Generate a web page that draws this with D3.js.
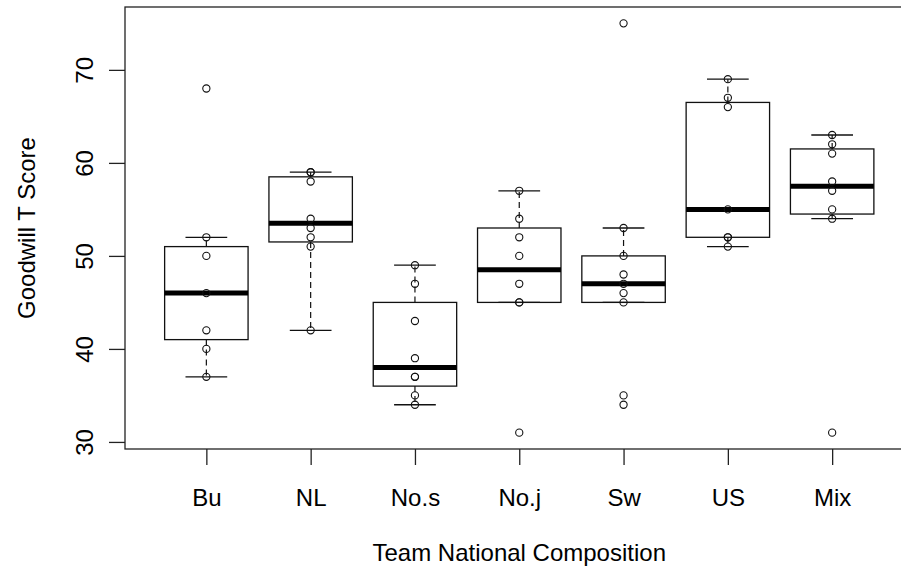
<!DOCTYPE html>
<html>
<head>
<meta charset="utf-8">
<script src="https://cdn.jsdelivr.net/npm/d3@7"></script>
<style>
  body { margin: 0; background: #fff; }
  svg text { font-family: "Liberation Sans", Arial, sans-serif; fill: #000; }
</style>
</head>
<body>
<div id="chart"></div>
<script>
// Team groups and the goodwill T scores
var groups = ["Bu", "NL", "No.s", "No.j", "Sw", "US", "Mix"];
var buScores  = [37, 40, 42, 46, 50, 52, 68];
var nlScores  = [42, 51, 52, 53, 54, 58, 59, 59];
var nosScores = [34, 35, 37, 37, 39, 43, 47, 49];
var nojScores = [31, 45, 45, 47, 50, 52, 54, 57];
var swScores  = [34, 35, 45, 46, 47, 48, 50, 53, 75];
var usScores  = [51, 52, 52, 55, 66, 67, 69];
var mixScores = [31, 54, 55, 57, 58, 61, 62, 63];
var yTicks = [30, 40, 50, 60, 70];
var xTitle = "Team National Composition";
var yTitle = "Goodwill T Score";

var scores = [buScores, nlScores, nosScores, nojScores, swScores, usScores, mixScores];

var width = 901, height = 573;
var plot = { left: 125, top: 7, bottom: 449 };
var fontSize = "24px";

// R style: positions 1..n, limits padded by 4%
var n = groups.length;
var xLo = 0.5, xHi = n + 0.5, xPad = (xHi - xLo) * 0.04;
var allVals = [].concat.apply([], scores);
var yMin = d3.min(allVals), yMax = d3.max(allVals), yPad = (yMax - yMin) * 0.04;

var x = d3.scaleLinear().domain([xLo - xPad, xHi + xPad]).range([plot.left, plot.left + 104.3 * (xHi - xLo + 2 * xPad)]);
var y = d3.scaleLinear().domain([yMin - yPad, yMax + yPad]).range([plot.bottom, plot.top]);

// Tukey five number summary, same as R's fivenum
function fivenum(v) {
    var s = v.slice().sort(d3.ascending), m = s.length;
    var n4 = Math.floor((m + 3) / 2) / 2;
    var d = [1, n4, (m + 1) / 2, m + 1 - n4, m];
    return d.map(function(k) {
        return 0.5 * (s[Math.floor(k) - 1] + s[Math.ceil(k) - 1]);
    });
}

var boxes = scores.map(function(v, i) {
    var f = fivenum(v);
    var iqr = f[3] - f[1];
    var hiLim = f[3] + 1.5 * iqr, loLim = f[1] - 1.5 * iqr;
    return {
        pos: i + 1,
        q1: f[1], med: f[2], q3: f[3],
        lo: d3.min(v.filter(function(d) { return d >= loLim; })),
        hi: d3.max(v.filter(function(d) { return d <= hiLim; })),
        values: v
    };
});

var svg = d3.select("#chart").append("svg")
    .attr("width", width)
    .attr("height", height);

var boxHalf = 0.4, stapleHalf = 0.2;

var box = svg.selectAll(".box")
    .data(boxes)
    .enter().append("g")
    .attr("class", "box");

// whiskers (dashed)
box.append("line")
    .attr("x1", function(d) { return x(d.pos); })
    .attr("x2", function(d) { return x(d.pos); })
    .attr("y1", function(d) { return y(d.q3); })
    .attr("y2", function(d) { return y(d.hi); })
    .attr("stroke", "#111").attr("stroke-width", 1.2).attr("stroke-dasharray", "6,4");
box.append("line")
    .attr("x1", function(d) { return x(d.pos); })
    .attr("x2", function(d) { return x(d.pos); })
    .attr("y1", function(d) { return y(d.q1); })
    .attr("y2", function(d) { return y(d.lo); })
    .attr("stroke", "#111").attr("stroke-width", 1.2).attr("stroke-dasharray", "6,4");

// staples
["hi", "lo"].forEach(function(k) {
    box.append("line")
        .attr("x1", function(d) { return x(d.pos - stapleHalf); })
        .attr("x2", function(d) { return x(d.pos + stapleHalf); })
        .attr("y1", function(d) { return y(d[k]); })
        .attr("y2", function(d) { return y(d[k]); })
        .attr("stroke", "#111").attr("stroke-width", 1.3);
});

// box
box.append("rect")
    .attr("x", function(d) { return x(d.pos - boxHalf); })
    .attr("width", function(d) { return x(d.pos + boxHalf) - x(d.pos - boxHalf); })
    .attr("y", function(d) { return y(d.q3); })
    .attr("height", function(d) { return y(d.q1) - y(d.q3); })
    .attr("fill", "none")
    .attr("stroke", "#111").attr("stroke-width", 1.3);

// median
box.append("line")
    .attr("x1", function(d) { return x(d.pos - boxHalf); })
    .attr("x2", function(d) { return x(d.pos + boxHalf); })
    .attr("y1", function(d) { return y(d.med); })
    .attr("y2", function(d) { return y(d.med); })
    .attr("stroke", "#000").attr("stroke-width", 5);

// stripchart points
box.selectAll(".pt")
    .data(function(d) { return d.values.map(function(v) { return { pos: d.pos, v: v }; }); })
    .enter().append("circle")
    .attr("class", "pt")
    .attr("cx", function(d) { return x(d.pos); })
    .attr("cy", function(d) { return y(d.v); })
    .attr("r", 3.6)
    .attr("fill", "none")
    .attr("stroke", "#111")
    .attr("stroke-width", 1.1);

// frame
svg.append("rect")
    .attr("x", x.range()[0])
    .attr("y", plot.top)
    .attr("width", x.range()[1] - x.range()[0])
    .attr("height", plot.bottom - plot.top)
    .attr("fill", "none")
    .attr("stroke", "#222").attr("stroke-width", 1.3);

// x axis
var xAxis = d3.axisBottom(x)
    .tickValues(d3.range(1, n + 1))
    .tickFormat(function(d) { return groups[d - 1]; })
    .tickSize(16)
    .tickPadding(24);
var gx = svg.append("g")
    .attr("transform", "translate(0," + plot.bottom + ")")
    .call(xAxis);
gx.select(".domain").remove();
gx.selectAll(".tick line").attr("stroke", "#222").attr("stroke-width", 1.3);
gx.selectAll(".tick text").style("font-size", fontSize);

// y axis, labels rotated like R's default
var yAxis = d3.axisLeft(y).tickValues(yTicks).tickSize(16);
var gy = svg.append("g")
    .attr("transform", "translate(" + plot.left + ",0)")
    .call(yAxis);
gy.select(".domain").remove();
gy.selectAll(".tick line").attr("stroke", "#222").attr("stroke-width", 1.3);
gy.selectAll(".tick text")
    .attr("transform", "rotate(-90)")
    .attr("x", 0).attr("y", -32).attr("dy", 0)
    .attr("text-anchor", "middle")
    .style("font-size", fontSize);

// titles
svg.append("text")
    .attr("x", x(xLo + (xHi - xLo) / 2) )
    .attr("y", 561)
    .attr("text-anchor", "middle")
    .style("font-size", fontSize)
    .text(xTitle);

svg.append("text")
    .attr("transform", "translate(35," + ((plot.top + plot.bottom) / 2) + ") rotate(-90)")
    .attr("text-anchor", "middle")
    .style("font-size", fontSize)
    .text(yTitle);
</script>
</body>
</html>
